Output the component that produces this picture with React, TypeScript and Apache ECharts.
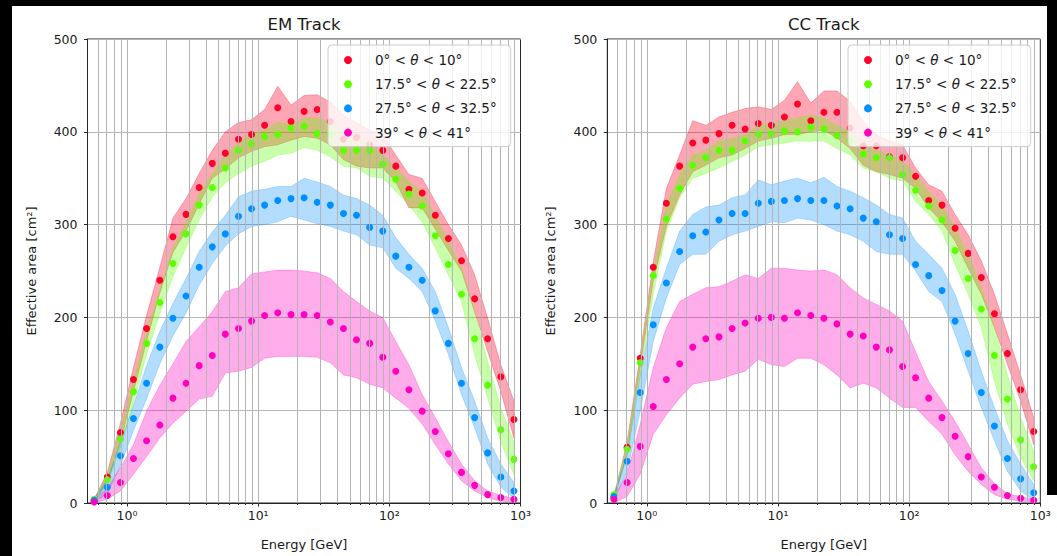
import React, { useEffect, useRef } from 'react';
import * as echarts from 'echarts';

// Bin centres (GeV), 10 bins per decade
const energies = [0.562, 0.708, 0.891, 1.12, 1.41, 1.78, 2.24, 2.82, 3.55, 4.47, 5.62, 7.08, 8.91, 11.2, 14.1, 17.8, 22.4, 28.2, 35.5, 44.7, 56.2, 70.8, 89.1, 112, 141, 178, 224, 282, 355, 447, 562, 708, 891];

const seriesNames = ['0° < θ < 10°', '17.5° < θ < 22.5°', '27.5° < θ < 32.5°', '39° < θ < 41°'];
const pointColors = ['#ff0029', '#5cff00', '#008fff', '#ff00bf'];
const bandColors = ['rgba(255,0,41,0.35)', 'rgba(92,255,0,0.33)', 'rgba(0,143,255,0.30)', 'rgba(255,0,191,0.32)'];

const majorTicks = [1, 10, 100, 1000];
const majorTickLabels = ['10⁰', '10¹', '10²', '10³'];
const minorTicks = [0.6, 0.7, 0.8, 0.9, 2, 3, 4, 5, 6, 7, 8, 9, 20, 30, 40, 50, 60, 70, 80, 90, 200, 300, 400, 500, 600, 700, 800, 900];
const gridTicks = [0.6, 0.7, 0.8, 0.9, 1, 2, 3, 4, 5, 6, 7, 8, 9, 10, 20, 30, 40, 50, 60, 70, 80, 90, 100, 200, 300, 400, 500, 600, 700, 800, 900];

// ---- EM Track ----
const emRed = [2, 28, 76, 133, 188, 240, 287, 311, 340, 366, 377, 392, 397, 407, 426, 411, 422, 424, 411, 392, 394, 386, 380, 363, 338, 334, 310, 285, 261, 220, 177, 136, 90];
const emRedHi = [4, 33, 86, 146, 202, 254, 307, 328, 355, 380, 400, 410, 413, 424, 449, 429, 439, 440, 432, 418, 410, 402, 397, 375, 354, 350, 325, 300, 278, 246, 199, 149, 110];
const emRedLo = [1, 22, 66, 120, 174, 226, 270, 293, 322, 350, 360, 372, 379, 384, 386, 391, 395, 393, 386, 370, 363, 361, 361, 346, 318, 318, 295, 272, 250, 206, 163, 120, 70];

const emGreen = [4, 25, 69, 120, 172, 216, 258, 290, 321, 340, 361, 380, 387, 395, 397, 404, 406, 398, 397, 380, 380, 380, 365, 349, 333, 320, 288, 257, 225, 177, 127, 79, 47];
const emGreenHi = [5, 30, 78, 132, 185, 230, 275, 303, 333, 355, 375, 389, 398, 402, 410, 408, 415, 415, 410, 400, 395, 388, 375, 362, 346, 336, 310, 282, 253, 206, 153, 102, 66];
const emGreenLo = [2, 20, 60, 108, 160, 204, 244, 275, 305, 330, 345, 355, 363, 368, 375, 377, 383, 380, 373, 363, 361, 352, 350, 336, 321, 303, 275, 246, 217, 160, 113, 66, 31];

const emBlue = [3, 17, 51, 91, 129, 168, 199, 223, 254, 276, 290, 309, 317, 321, 326, 328, 329, 324, 321, 312, 310, 297, 293, 266, 254, 240, 207, 172, 129, 92, 54, 28, 13];
const emBlueHi = [5, 25, 65, 105, 148, 185, 215, 242, 271, 292, 310, 330, 336, 338, 341, 341, 350, 346, 341, 332, 328, 321, 310, 286, 268, 253, 228, 189, 146, 110, 70, 42, 22];
const emBlueLo = [1, 10, 40, 78, 112, 150, 180, 205, 235, 258, 277, 290, 298, 300, 303, 309, 305, 301, 298, 293, 289, 278, 275, 253, 242, 228, 196, 160, 117, 81, 42, 17, 5];

const emPink = [1, 8, 22, 48, 67, 84, 113, 129, 148, 159, 182, 188, 196, 202, 205, 203, 203, 202, 195, 188, 176, 172, 157, 142, 122, 99, 77, 53, 33, 19, 9, 6, 4];
const emPinkHi = [3, 16, 38, 63, 99, 127, 150, 174, 190, 206, 228, 232, 247, 249, 251, 251, 250, 248, 242, 228, 217, 207, 200, 174, 149, 117, 92, 66, 42, 24, 13, 8, 5];
const emPinkLo = [0, 4, 13, 31, 50, 70, 86, 99, 112, 115, 140, 142, 146, 156, 158, 158, 158, 157, 151, 138, 135, 128, 124, 113, 102, 85, 63, 42, 24, 13, 6, 2, 1];

// ---- CC Track ----
const ccRed = [6, 60, 156, 254, 323, 363, 388, 391, 398, 407, 403, 409, 407, 416, 430, 412, 421, 421, 404, 385, 385, 373, 372, 352, 326, 321, 296, 269, 243, 204, 161, 122, 77];
const ccRedHi = [7, 66, 160, 260, 339, 375, 412, 407, 416, 421, 425, 427, 424, 434, 454, 431, 444, 444, 433, 411, 397, 390, 386, 361, 343, 336, 311, 289, 261, 225, 182, 138, 92];
const ccRedLo = [3, 54, 146, 239, 298, 332, 357, 364, 372, 375, 382, 390, 393, 397, 397, 400, 402, 393, 382, 364, 357, 354, 350, 339, 318, 303, 282, 253, 225, 189, 149, 110, 63];

const ccGreen = [9, 58, 151, 245, 306, 339, 364, 372, 380, 380, 390, 397, 398, 401, 400, 405, 403, 396, 390, 376, 372, 372, 354, 337, 320, 305, 272, 242, 209, 159, 112, 68, 39];
const ccGreenHi = [10, 62, 155, 250, 321, 354, 375, 380, 390, 393, 397, 407, 409, 412, 415, 418, 415, 407, 400, 386, 380, 375, 368, 354, 336, 321, 296, 268, 232, 189, 138, 92, 56];
const ccGreenLo = [6, 50, 138, 225, 293, 329, 350, 355, 361, 368, 375, 384, 386, 388, 390, 390, 390, 382, 375, 361, 357, 350, 347, 325, 311, 293, 257, 225, 189, 131, 85, 49, 24];

const ccBlue = [7, 45, 119, 192, 237, 271, 288, 292, 305, 312, 312, 323, 325, 326, 328, 326, 326, 320, 317, 307, 303, 289, 285, 257, 245, 229, 196, 161, 119, 83, 48, 26, 11];
const ccBlueHi = [9, 52, 138, 210, 253, 293, 311, 319, 321, 329, 332, 348, 343, 347, 350, 345, 351, 341, 336, 329, 321, 311, 307, 282, 268, 253, 225, 185, 142, 103, 67, 42, 20];
const ccBlueLo = [3, 34, 99, 174, 221, 257, 268, 268, 282, 289, 293, 298, 303, 302, 307, 305, 300, 293, 289, 282, 271, 268, 268, 250, 228, 217, 182, 142, 103, 67, 34, 13, 3];

const ccPink = [4, 22, 61, 104, 133, 150, 168, 177, 179, 188, 194, 199, 200, 199, 205, 202, 199, 193, 182, 180, 168, 165, 147, 135, 113, 92, 72, 50, 28, 17, 8, 5, 3];
const ccPinkHi = [6, 31, 85, 146, 189, 217, 225, 232, 233, 239, 246, 242, 253, 253, 251, 250, 251, 246, 232, 221, 214, 207, 196, 163, 131, 110, 88, 63, 38, 21, 10, 7, 4];
const ccPinkLo = [0, 7, 31, 74, 95, 113, 128, 131, 133, 138, 142, 155, 149, 147, 156, 156, 149, 138, 124, 129, 124, 113, 103, 103, 88, 74, 52, 34, 20, 9, 4, 2, 1];

const panels = [
  { title: 'EM Track', left: 87.5, pts: [emRed, emGreen, emBlue, emPink], hi: [emRedHi, emGreenHi, emBlueHi, emPinkHi], lo: [emRedLo, emGreenLo, emBlueLo, emPinkLo], legendLeft: 328 },
  { title: 'CC Track', left: 607.3, pts: [ccRed, ccGreen, ccBlue, ccPink], hi: [ccRedHi, ccGreenHi, ccBlueHi, ccPinkHi], lo: [ccRedLo, ccGreenLo, ccBlueLo, ccPinkLo], legendLeft: 848 },
];

const FONT = 'DejaVu Sans';
const TEXT = '#1a1a1a';
const SPINE = '#262626';
const GRIDC = '#b4b4b4';
const GW = 433;
const GTOP = 39;
const GH = 464.5;

function bandRenderer(lo: number[], hi: number[], color: string) {
  return (params: any, api: any) => {
    if (params.dataIndex !== 0) return null;
    const upper = energies.map((e, i) => api.coord([e, hi[i]]));
    const lower = energies.map((e, i) => api.coord([e, lo[i]])).reverse();
    return {
      type: 'polygon',
      shape: { points: upper.concat(lower) },
      style: { fill: color, stroke: color, lineWidth: 0.8 },
      silent: true,
    };
  };
}

function buildOption() {
  const grid: any[] = [];
  const xAxis: any[] = [];
  const yAxis: any[] = [];
  const series: any[] = [];
  const title: any[] = [];
  const legend: any[] = [];

  panels.forEach((p, g) => {
    grid.push({ left: p.left, top: GTOP, width: GW, height: GH, show: true, borderColor: SPINE, borderWidth: 1, backgroundColor: 'transparent' });
    title.push({
      text: p.title, left: p.left + GW / 2, top: 16, textAlign: 'center', padding: 0,
      textStyle: { fontFamily: FONT, fontSize: 16.5, fontWeight: 'normal', color: TEXT },
    });
    xAxis.push({
      gridIndex: g, type: 'log', logBase: 10, min: 0.5, max: 1000, position: 'bottom',
      axisLine: { show: true, lineStyle: { color: SPINE, width: 1 } },
      axisTick: { show: true, length: 3.5, customValues: majorTicks, lineStyle: { color: SPINE } },
      axisLabel: {
        customValues: majorTicks, margin: 6, fontFamily: FONT, fontSize: 12.5, color: TEXT,
        formatter: (v: number) => {
          const i = majorTicks.findIndex((m) => Math.abs(m - v) / m < 1e-6);
          return i >= 0 ? majorTickLabels[i] : '';
        },
      },
      splitLine: { show: false },
      name: 'Energy [GeV]', nameLocation: 'middle', nameGap: 35,
      nameTextStyle: { fontFamily: FONT, fontSize: 13, color: TEXT },
    });
    xAxis.push({
      gridIndex: g, type: 'log', logBase: 10, min: 0.5, max: 1000, position: 'bottom',
      axisLine: { show: false },
      axisTick: { show: true, length: 2, customValues: minorTicks, lineStyle: { color: SPINE } },
      axisLabel: { show: false },
      splitLine: { show: false },
    });
    yAxis.push({
      gridIndex: g, type: 'value', min: 0, max: 500, interval: 100,
      axisLine: { show: true, lineStyle: { color: SPINE, width: 1 } },
      axisTick: { show: true, length: 3.5, lineStyle: { color: SPINE } },
      axisLabel: { margin: 10, fontFamily: FONT, fontSize: 12.5, color: TEXT },
      splitLine: { show: true, lineStyle: { color: GRIDC, width: 1 } },
      name: 'Effective area [cm²]', nameLocation: 'middle', nameGap: 50,
      nameTextStyle: { fontFamily: FONT, fontSize: 13, color: TEXT },
    });

    const xi = g * 2;
    // bands (mean ± spread)
    for (let s = 0; s < 4; s++) {
      series.push({
        type: 'custom', name: `band-${g}-${s}`, xAxisIndex: xi, yAxisIndex: g, silent: true, clip: true, z: 1,
        data: energies.map((e, i) => [e, p.lo[s][i], p.hi[s][i]]),
        encode: { x: 0, y: [1, 2] },
        renderItem: bandRenderer(p.lo[s], p.hi[s], bandColors[s]),
      });
    }
    // vertical grid lines
    series.push({
      type: 'line', name: `grid-${g}`, xAxisIndex: xi, yAxisIndex: g, data: [], silent: true, z: 2,
      markLine: {
        silent: true, symbol: ['none', 'none'], label: { show: false },
        lineStyle: { color: GRIDC, width: 1, type: 'solid' },
        data: gridTicks.map((v) => ({ xAxis: v })),
      },
    });
    // points
    for (let s = 0; s < 4; s++) {
      series.push({
        type: 'scatter', name: seriesNames[s], xAxisIndex: xi, yAxisIndex: g,
        data: energies.map((e, i) => [e, p.pts[s][i]]),
        symbol: 'circle', symbolSize: 7, itemStyle: { color: pointColors[s], opacity: 1 }, z: 3,
      });
    }

    legend.push({
      orient: 'vertical', left: p.legendLeft, top: 45, icon: 'circle', itemWidth: 8, itemHeight: 8, itemGap: 8.2,
      padding: [7, 14, 6, 16], backgroundColor: 'rgba(255,255,255,0.8)', borderColor: '#cccccc', borderWidth: 1, borderRadius: 4,
      selectedMode: false, data: seriesNames, z: 10,
      formatter: (name: string) => name.replace('θ', '{i|θ}'),
      textStyle: {
        fontFamily: FONT, fontSize: 13.5, color: TEXT, lineHeight: 16, padding: [0, 0, 0, 18],
        rich: { i: { fontFamily: FONT, fontSize: 13.5, fontStyle: 'italic', color: TEXT } },
      },
    });
  });

  return {
    animation: false,
    backgroundColor: '#ffffff',
    textStyle: { fontFamily: FONT },
    title, legend, grid, xAxis, yAxis, series,
    graphic: [
      { type: 'rect', shape: { x: 0, y: 0, width: 1057, height: 6 }, style: { fill: '#000' }, z: 100, silent: true },
      { type: 'rect', shape: { x: 0, y: 0, width: 12, height: 556 }, style: { fill: '#000' }, z: 100, silent: true },
      { type: 'rect', shape: { x: 1047, y: 0, width: 10, height: 495 }, style: { fill: '#000' }, z: 100, silent: true },
    ],
  };
}

export default function App() {
  const ref = useRef<HTMLDivElement>(null);
  useEffect(() => {
    if (!ref.current) return;
    const chart = echarts.init(ref.current, undefined, { renderer: 'svg' });
    chart.setOption(buildOption() as any);
    return () => chart.dispose();
  }, []);
  return (
    <div
      ref={ref}
      style={{ position: 'fixed', left: 0, top: 0, width: 1057, height: 556, background: '#fff' }}
    />
  );
}
